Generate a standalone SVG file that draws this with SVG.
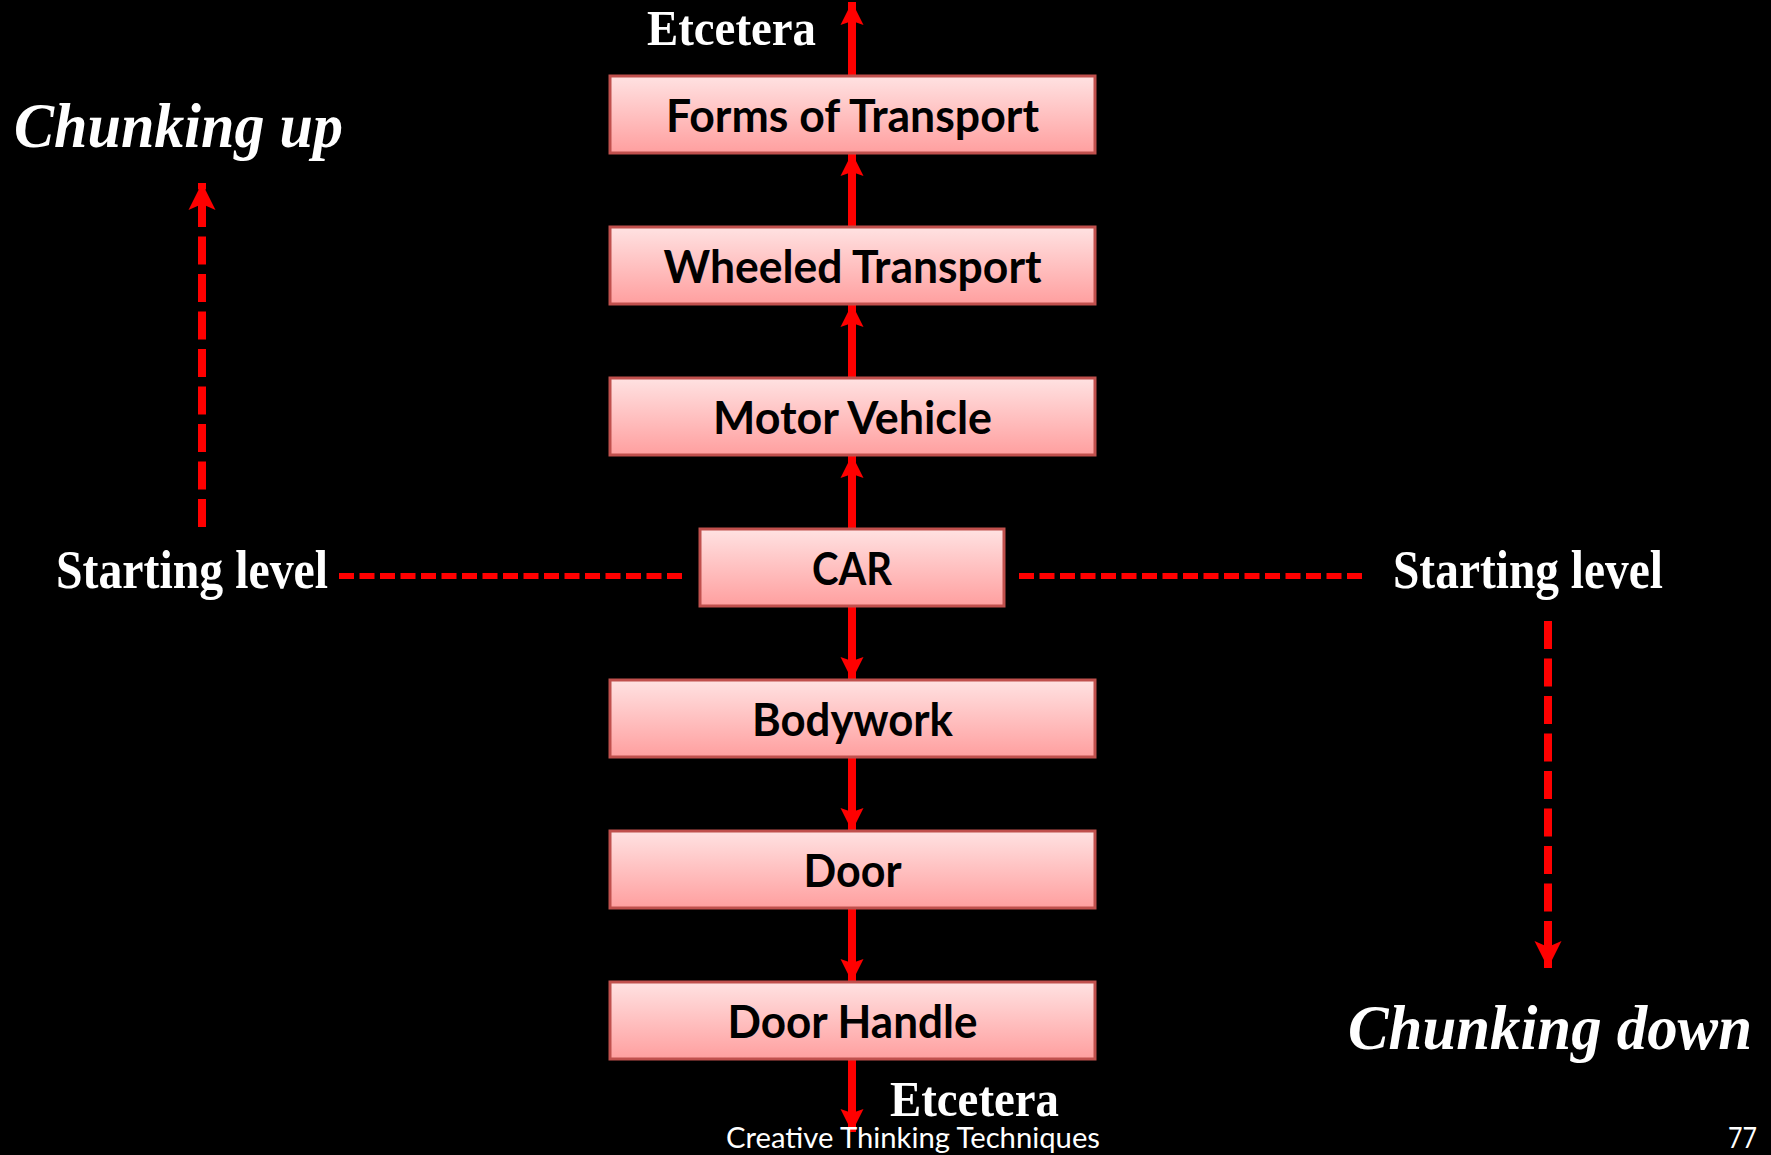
<svg xmlns="http://www.w3.org/2000/svg" width="1771" height="1155" viewBox="0 0 1771 1155">
<defs>
<linearGradient id="boxFill" x1="0" y1="0" x2="0" y2="1">
<stop offset="0" stop-color="#ffe2e2"/>
<stop offset="1" stop-color="#ff9f9f"/>
</linearGradient>
<marker id="arrowSolid" markerUnits="userSpaceOnUse" markerWidth="26" markerHeight="26" viewBox="0 -13 24 26" refX="23" refY="0" orient="auto">
<path d="M0,-11.5 L23,0 L0,11.5 L4,0 z" fill="#ff0000"/>
</marker>
<marker id="arrowDash" markerUnits="userSpaceOnUse" markerWidth="30" markerHeight="30" viewBox="0 -15 28 30" refX="27" refY="0" orient="auto">
<path d="M0,-13.5 L27,0 L0,13.5 L6,0 z" fill="#ff0000"/>
</marker>
<style>
.box{fill:url(#boxFill);stroke:#c0504d;stroke-width:3}
.lbl{font-family:Lato,"Liberation Sans",sans-serif;font-weight:bold;font-size:46px;fill:#000;text-anchor:middle}
.serif{font-family:"Liberation Serif","DejaVu Serif",serif;fill:#fff;font-weight:bold}
.etc{font-family:"Liberation Serif","DejaVu Serif",serif;fill:#fff;font-size:51px;font-weight:bold}
.ital{font-family:"Liberation Serif","DejaVu Serif",serif;fill:#fff;font-style:italic;font-weight:bold;font-size:64px}
.foot{font-family:Lato,"Liberation Sans",sans-serif;fill:#fff;font-size:28px}
.conn{stroke:#ff0000;stroke-width:8;fill:none;marker-end:url(#arrowSolid)}
.dashv{stroke:#ff0000;stroke-width:8;fill:none;stroke-dasharray:28 9.5;marker-end:url(#arrowDash)}
.dashh{stroke:#ff0000;stroke-width:6;fill:none;stroke-dasharray:15 5.5}
</style>
</defs>
<rect x="0" y="0" width="1771" height="1155" fill="#000"/>

<g id="connectors">
<line class="conn" x1="852" y1="76" x2="852" y2="2"/>
<line class="conn" x1="852" y1="227" x2="852" y2="153"/>
<line class="conn" x1="852" y1="378" x2="852" y2="304"/>
<line class="conn" x1="852" y1="529" x2="852" y2="455"/>
<line class="conn" x1="852" y1="606" x2="852" y2="680"/>
<line class="conn" x1="852" y1="757" x2="852" y2="831"/>
<line class="conn" x1="852" y1="908" x2="852" y2="982"/>
<line class="conn" x1="852" y1="1059" x2="852" y2="1132"/>
<line class="dashv" x1="202" y1="527" x2="202" y2="183"/>
<line class="dashv" x1="1548" y1="621" x2="1548" y2="968"/>
<line class="dashh" x1="339" y1="576" x2="686" y2="576"/>
<line class="dashh" x1="1019" y1="576" x2="1367" y2="576"/>
</g>

<g id="node-forms">
<rect class="box" x="610" y="76" width="485" height="77"/>
<text class="lbl" x="852.5" y="132" textLength="373" lengthAdjust="spacingAndGlyphs">Forms of Transport</text>
</g>
<g id="node-wheeled">
<rect class="box" x="610" y="227" width="485" height="77"/>
<text class="lbl" x="852.5" y="283" textLength="378" lengthAdjust="spacingAndGlyphs">Wheeled Transport</text>
</g>
<g id="node-motor">
<rect class="box" x="610" y="378" width="485" height="77"/>
<text class="lbl" x="852.5" y="434" textLength="279" lengthAdjust="spacingAndGlyphs">Motor Vehicle</text>
</g>
<g id="node-car">
<rect class="box" x="700" y="529" width="304" height="77"/>
<text class="lbl" x="852" y="585" textLength="80" lengthAdjust="spacingAndGlyphs">CAR</text>
</g>
<g id="node-bodywork">
<rect class="box" x="610" y="680" width="485" height="77"/>
<text class="lbl" x="852.5" y="736" textLength="201" lengthAdjust="spacingAndGlyphs">Bodywork</text>
</g>
<g id="node-door">
<rect class="box" x="610" y="831" width="485" height="77"/>
<text class="lbl" x="852.5" y="887" textLength="98" lengthAdjust="spacingAndGlyphs">Door</text>
</g>
<g id="node-doorhandle">
<rect class="box" x="610" y="982" width="485" height="77"/>
<text class="lbl" x="852.5" y="1038" textLength="250" lengthAdjust="spacingAndGlyphs">Door Handle</text>
</g>

<g id="labels">
<text class="etc" x="647" y="45" textLength="169" lengthAdjust="spacingAndGlyphs">Etcetera</text>
<text class="etc" x="890" y="1116" textLength="169" lengthAdjust="spacingAndGlyphs">Etcetera</text>
<text class="ital" x="14" y="147" textLength="329" lengthAdjust="spacingAndGlyphs">Chunking up</text>
<text class="ital" x="1348" y="1049" textLength="404" lengthAdjust="spacingAndGlyphs">Chunking down</text>
<text class="serif" x="56" y="588" font-size="54" textLength="272" lengthAdjust="spacingAndGlyphs">Starting level</text>
<text class="serif" x="1393" y="588" font-size="54" textLength="270" lengthAdjust="spacingAndGlyphs">Starting level</text>
<text class="foot" x="726" y="1148" textLength="374" lengthAdjust="spacingAndGlyphs">Creative Thinking Techniques</text>
<text class="foot" x="1728" y="1148" textLength="29" lengthAdjust="spacingAndGlyphs">77</text>
</g>
</svg>
